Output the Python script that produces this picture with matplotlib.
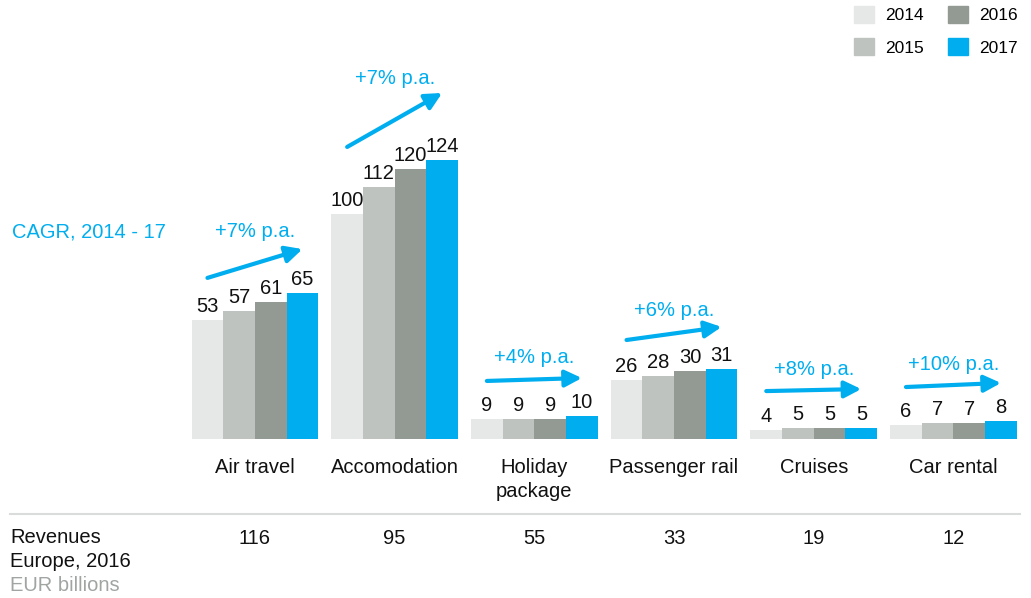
import matplotlib.pyplot as plt
from matplotlib.patches import Patch

plt.rcParams['font.family'] = ['Liberation Sans', 'DejaVu Sans']

# Revenue segments and yearly values (EUR billions)
categories = ['Air travel', 'Accomodation', 'Holiday\npackage', 'Passenger rail', 'Cruises', 'Car rental']
years = ['2014', '2015', '2016', '2017']
values = {
    '2014': [53, 100, 9, 26, 4, 6],
    '2015': [57, 112, 9, 28, 5, 7],
    '2016': [61, 120, 9, 30, 5, 7],
    '2017': [65, 124, 10, 31, 5, 8],
}
cagr_labels = ['+7% p.a.', '+7% p.a.', '+4% p.a.', '+6% p.a.', '+8% p.a.', '+10% p.a.']
revenues_2016 = [116, 95, 55, 33, 19, 12]

# Growth arrow heights (start, end) and label heights in value units
arrow_start = [71.6, 129.8, 25.8, 44.0, 21.3, 23.1]
arrow_end = [84.4, 153.8, 27.1, 49.8, 22.2, 24.9]
label_y = [92.0, 160.0, 36.0, 57.0, 31.0, 33.3]

colors = ['#E6E8E7', '#BEC3C0', '#939A94', '#00AEEF']
blue = '#00AEEF'

fig = plt.figure(figsize=(10.31, 5.98), dpi=100)
ax = fig.add_axes([0, 0, 1, 1])
ax.set_xlim(-1.825, 5.555)
ax.set_ylim(-70.67, 195.11)
ax.axis('off')

width = 0.227
for j, yr in enumerate(years):
    offset = (j - 1.5) * width
    xs = [i + offset for i in range(len(categories))]
    ax.bar(xs, values[yr], width=width, color=colors[j], label=yr)
    for x, v in zip(xs, values[yr]):
        ax.annotate(str(v), (x, v), xytext=(0, 3), textcoords='offset points',
                    ha='center', va='bottom', fontsize=14.5, color='#111111')

# CAGR arrows and labels
for i in range(len(categories)):
    ax.annotate('', xy=(i + 0.34, arrow_end[i]), xytext=(i - 0.34, arrow_start[i]),
                arrowprops=dict(arrowstyle='-|>,head_length=1.0,head_width=0.5',
                                color=blue, lw=3.0, shrinkA=0, shrinkB=0))
    ax.text(i, label_y[i], cagr_labels[i], ha='center', va='center',
            fontsize=14.5, color=blue)

ax.text(-1.74, 92, 'CAGR, 2014 - 17', ha='left', va='center', fontsize=14.5, color=blue)

# category names under the bars
for i, name in enumerate(categories):
    ax.text(i, -8.5, name, ha='center', va='top', fontsize=14.5,
            color='#111111', linespacing=1.3)

# separator and revenue row
ax.axhline(-33.3, xmin=0.0097, xmax=0.989, color='#D9DCDA', lw=1.5)
for i, r in enumerate(revenues_2016):
    ax.text(i, -44.2, str(r), ha='center', va='center', fontsize=14.5, color='#111111')
ax.text(-1.754, -39.6, 'Revenues\nEurope, 2016', ha='left', va='top', fontsize=14.5,
        color='#111111', linespacing=1.3)
ax.text(-1.754, -65.3, 'EUR billions', ha='left', va='center', fontsize=14.5, color='#A0A5A2')

handles = [Patch(color=c) for c in colors]
ax.legend(handles, years, loc='upper right', bbox_to_anchor=(1018 / 1031, 1 - 6 / 598),
          ncol=2, frameon=False, fontsize=12.5, borderaxespad=0, borderpad=0,
          handlelength=1.15, handleheight=1.15, handletextpad=0.65,
          columnspacing=1.4, labelspacing=0.85)

fig.savefig('out.png', dpi=100)
